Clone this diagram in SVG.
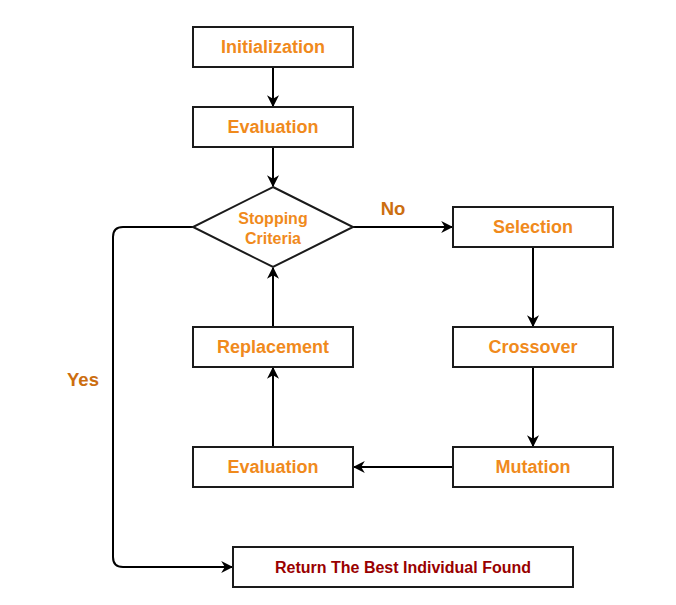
<svg xmlns="http://www.w3.org/2000/svg" width="676" height="605" viewBox="0 0 676 605">
<style>
.box{fill:#fff;stroke:#1a1a1a;stroke-width:2}
.t{font-family:"Liberation Sans",Arial,sans-serif;font-weight:bold;font-size:18px;fill:#F08A1C;text-anchor:middle;dominant-baseline:central}
.s{font-size:16px}
.lbl{font-family:"Liberation Sans",Arial,sans-serif;font-weight:bold;font-size:18.5px;fill:#CC6E10;text-anchor:middle;dominant-baseline:central}
.r{font-family:"Liberation Sans",Arial,sans-serif;font-weight:bold;font-size:16px;fill:#990000;text-anchor:middle;dominant-baseline:central}
.c{fill:none;stroke:#000;stroke-width:2;marker-end:url(#a)}
</style>
<defs>
<marker id="a" viewBox="0 0 10 10" refX="9" refY="5" markerWidth="6" markerHeight="6" orient="auto" markerUnits="strokeWidth">
<path d="M0,0 L10,5 L0,10 L3,5 Z" fill="#000"/>
</marker>
</defs>
<rect width="676" height="605" fill="#fff"/>
<g id="connectors">
<path class="c" d="M273,67 V106"/>
<path class="c" d="M273,147 V186"/>
<path class="c" d="M353,227 H452"/>
<path class="c" d="M533,247 V326"/>
<path class="c" d="M533,367 V446"/>
<path class="c" d="M453,467 H354"/>
<path class="c" d="M273,447 V368"/>
<path class="c" d="M273,327 V268"/>
<path class="c" d="M193,227 H123 Q113,227 113,237 V557 Q113,567 123,567 H232"/>
</g>
<g id="lbl-no"><text class="lbl" x="393" y="208">No</text></g>
<g id="lbl-yes"><text class="lbl" x="83" y="379">Yes</text></g>
<g id="init"><rect class="box" x="193" y="27" width="160" height="40"/><text class="t" x="273" y="47">Initialization</text></g>
<g id="eval1"><rect class="box" x="193" y="107" width="160" height="40"/><text class="t" x="273" y="127">Evaluation</text></g>
<g id="stop"><path class="box" d="M273,187 L353,227 L273,267 L193,227 Z"/><text class="t s" x="273" y="218">Stopping</text><text class="t s" x="273" y="238">Criteria</text></g>
<g id="sel"><rect class="box" x="453" y="207" width="160" height="40"/><text class="t" x="533" y="227">Selection</text></g>
<g id="cross"><rect class="box" x="453" y="327" width="160" height="40"/><text class="t" x="533" y="347">Crossover</text></g>
<g id="mut"><rect class="box" x="453" y="447" width="160" height="40"/><text class="t" x="533" y="467">Mutation</text></g>
<g id="repl"><rect class="box" x="193" y="327" width="160" height="40"/><text class="t" x="273" y="347">Replacement</text></g>
<g id="eval2"><rect class="box" x="193" y="447" width="160" height="40"/><text class="t" x="273" y="467">Evaluation</text></g>
<g id="ret"><rect class="box" x="233" y="547" width="340" height="40"/><text class="r" x="403" y="567">Return The Best Individual Found</text></g>
</svg>
